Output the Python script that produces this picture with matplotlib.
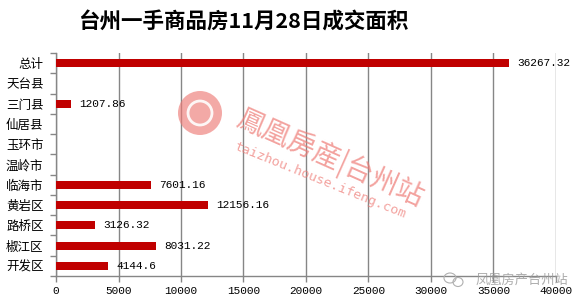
import numpy as np
import matplotlib.pyplot as plt
from matplotlib.patches import Ellipse

plt.rcParams['font.family'] = ['Noto Sans CJK SC', 'DejaVu Sans']

categories = ["总计", "天台县", "三门县", "仙居县", "玉环市", "温岭市",
              "临海市", "黄岩区", "路桥区", "椒江区", "开发区"]
values = [36267.32, None, 1207.86, None, None, None,
          7601.16, 12156.16, 3126.32, 8031.22, 4144.6]
labels = ["36267.32", "", "1207.86", "", "", "",
          "7601.16", "12156.16", "3126.32", "8031.22", "4144.6"]
xticks = [0, 5000, 10000, 15000, 20000, 25000, 30000, 35000, 40000]

mono = "Liberation Mono"
grid_c = "#868686"
bar_c = "#C00000"

fig = plt.figure(figsize=(5.86, 3.08), dpi=100)
ax = fig.add_axes([0.0956, 0.104, 0.853, 0.724])

y = np.arange(len(categories))
vals = [np.nan if v is None else v for v in values]
ax.barh(y, vals, height=0.4, color=bar_c, zorder=3)
for yi, v, lab in zip(y, vals, labels):
    if lab:
        ax.annotate(lab, (v, yi), xytext=(6, 0), textcoords="offset points",
                    va="center", ha="left", fontsize=8, family=mono, zorder=4)

ax.set_xlim(0, 40000)
ax.set_ylim(len(categories) - 0.5, -0.5)
ax.set_xticks(xticks)
ax.set_xticklabels([str(t) for t in xticks], family=mono, fontsize=8)
ax.set_yticks(y)
ax.set_yticklabels(categories, fontsize=9)
ax.set_yticks(np.arange(len(categories) + 1) - 0.5, minor=True)
ax.tick_params(axis="y", which="major", length=0, pad=9)
ax.tick_params(axis="y", which="minor", length=4, color=grid_c, width=1)
ax.tick_params(axis="x", length=4, color=grid_c, width=1, pad=3)
ax.xaxis.grid(True, color=grid_c, linewidth=1, zorder=0)
for s in ["top", "right"]:
    ax.spines[s].set_visible(False)
for s in ["left", "bottom"]:
    ax.spines[s].set_color(grid_c)
    ax.spines[s].set_linewidth(1)

fig.text(0.415, 0.928, "台州一手商品房11月28日成交面积", ha="center", va="center",
         fontsize=15.5, fontweight="bold")

# watermark
wm = "#EE7B76"
fig.patches.append(Ellipse((200 / 586, 1 - 113 / 308), 44 / 586, 44 / 308,
                           transform=fig.transFigure, facecolor=wm, alpha=0.65,
                           edgecolor="none", zorder=5))
fig.patches.append(Ellipse((200 / 586, 1 - 113 / 308), 24 / 586, 24 / 308,
                           transform=fig.transFigure, facecolor="none", alpha=0.9,
                           edgecolor="white", lw=2, zorder=6))
fig.text(330 / 586, 1 - 158 / 308, "鳳凰房産|台州站", ha="center", va="center",
         rotation=-24, fontsize=20, color=wm, alpha=0.7,
         family=["Noto Sans CJK TC", "DejaVu Sans"])
fig.text(320 / 586, 1 - 180 / 308, "taizhou.house.ifeng.com",
         ha="center", va="center", rotation=-22, fontsize=9.5, color=wm, alpha=0.7,
         family="DejaVu Sans Mono")

fig.text(0.97, 1 - 280 / 308, "凤凰房产台州站", ha="right", va="center",
         fontsize=9.5, color="#9A9A9A", alpha=0.8)
fig.patches.append(Ellipse((450 / 586, 1 - 278 / 308), 12 / 586, 10 / 308,
                           transform=fig.transFigure, facecolor="none",
                           edgecolor="#B0B0B0", lw=0.8))
fig.patches.append(Ellipse((458 / 586, 1 - 282 / 308), 10 / 586, 9 / 308,
                           transform=fig.transFigure, facecolor="none",
                           edgecolor="#B0B0B0", lw=0.8))

fig.savefig("out.png", dpi=100)
